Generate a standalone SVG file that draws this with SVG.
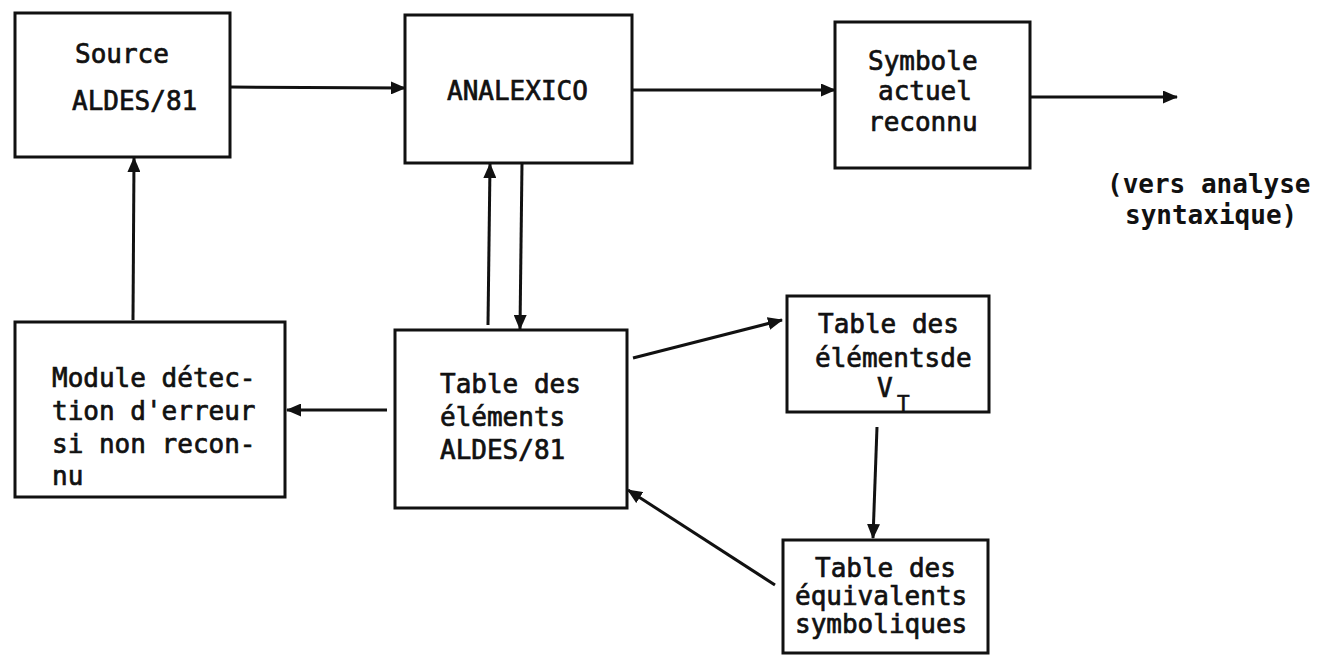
<svg xmlns="http://www.w3.org/2000/svg" width="1344" height="655" viewBox="0 0 1344 655">
  <style>
    .box { fill: #fff; stroke: #111; stroke-width: 3; }
    .lbl { font-family: "DejaVu Sans Mono", "Liberation Mono", monospace; font-size: 26px; fill: #111; stroke: #111; stroke-width: 0.7; }
    .note { font-family: "DejaVu Sans Mono", "Liberation Mono", monospace; font-size: 26px; font-weight: bold; fill: #111; }
    .sub { font-family: "DejaVu Sans Mono", "Liberation Mono", monospace; font-size: 21px; fill: #111; stroke: #111; stroke-width: 0.6; }
    .wire { fill: none; stroke: #111; stroke-width: 3; marker-end: url(#head); }
  </style>
  <defs>
    <marker id="head" markerUnits="userSpaceOnUse" markerWidth="15" markerHeight="13" refX="14" refY="6.5" orient="auto">
      <path d="M0,0 L15,6.5 L0,13 z" fill="#111"/>
    </marker>
  </defs>
  <rect width="1344" height="655" fill="#fff"/>

  <g id="connectors">
    <line class="wire" x1="230" y1="87" x2="405" y2="88"/>
    <line class="wire" x1="632" y1="90" x2="835" y2="90"/>
    <line class="wire" x1="1030" y1="97" x2="1177" y2="97"/>
    <line class="wire" x1="133" y1="320" x2="134" y2="158"/>
    <line class="wire" x1="488" y1="325" x2="490" y2="164"/>
    <line class="wire" x1="522" y1="163" x2="520" y2="329"/>
    <line class="wire" x1="387" y1="410" x2="287" y2="410"/>
    <line class="wire" x1="633" y1="358" x2="782" y2="320"/>
    <line class="wire" x1="877" y1="427" x2="873" y2="538"/>
    <line class="wire" x1="775" y1="585" x2="628" y2="490"/>
  </g>

  <g id="source">
    <rect class="box" x="15" y="13" width="215" height="144"/>
    <text class="lbl" x="75" y="63">Source</text>
    <text class="lbl" x="72" y="110">ALDES/81</text>
  </g>

  <g id="analexico">
    <rect class="box" x="405" y="15" width="227" height="148"/>
    <text class="lbl" x="447" y="100">ANALEXICO</text>
  </g>

  <g id="symbole">
    <rect class="box" x="835" y="22" width="195" height="146"/>
    <text class="lbl" x="868" y="70">Symbole</text>
    <text class="lbl" x="878" y="100">actuel</text>
    <text class="lbl" x="868" y="131">reconnu</text>
  </g>

  <g id="sortie">
    <text class="note" x="1107" y="193">(vers analyse</text>
    <text class="note" x="1125" y="224">syntaxique)</text>
  </g>

  <g id="module">
    <rect class="box" x="15" y="322" width="270" height="175"/>
    <text class="lbl" x="52" y="387">Module détec-</text>
    <text class="lbl" x="52" y="420">tion d'erreur</text>
    <text class="lbl" x="52" y="453">si non recon-</text>
    <text class="lbl" x="52" y="485">nu</text>
  </g>

  <g id="table-aldes">
    <rect class="box" x="395" y="330" width="232" height="178"/>
    <text class="lbl" x="440" y="393">Table des</text>
    <text class="lbl" x="440" y="426">éléments</text>
    <text class="lbl" x="440" y="459">ALDES/81</text>
  </g>

  <g id="table-vt">
    <rect class="box" x="787" y="296" width="202" height="116"/>
    <text class="lbl" x="818" y="333">Table des</text>
    <text class="lbl" x="815" y="367">élémentsde</text>
    <text class="lbl" x="877" y="397">V</text>
    <text class="sub" x="897" y="411">T</text>
  </g>

  <g id="table-equiv">
    <rect class="box" x="783" y="540" width="205" height="113"/>
    <text class="lbl" x="815" y="577">Table des</text>
    <text class="lbl" x="795" y="605">équivalents</text>
    <text class="lbl" x="795" y="633">symboliques</text>
  </g>
</svg>
